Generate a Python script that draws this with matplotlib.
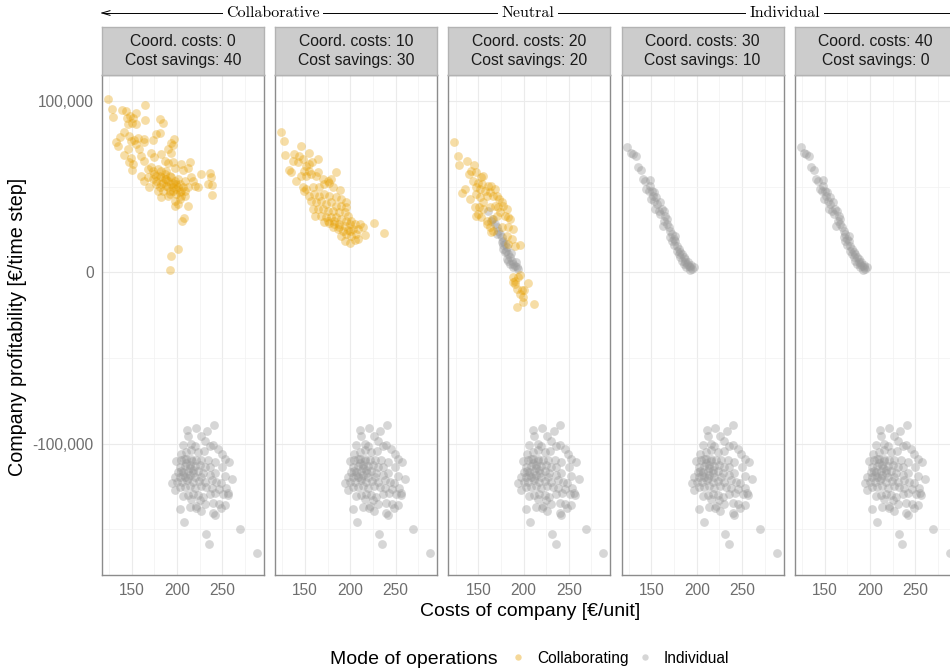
import matplotlib
matplotlib.use("Agg")
import matplotlib.pyplot as plt
from matplotlib.lines import Line2D
from matplotlib.ticker import MultipleLocator, FuncFormatter
import numpy as np

plt.rcParams['font.family'] = ['Liberation Sans', 'DejaVu Sans']

# facet settings
coord_costs = [0, 10, 20, 30, 40]
cost_savings = [40, 30, 20, 10, 0]
regimes = ["Collaborative", "Neutral", "Individual"]
modes = ["Collaborating", "Individual"]

# costs [EUR/unit] and profit [1000 EUR/time step] per group
collab_0_cost = [123.9, 127.6, 128.7, 138.7, 143.5, 144.6, 148.3, 150.9, 154.6, 164.6, 164.6, 145.4, 149.8, 154.6,
                 180.6, 184.3, 141.7, 137.2, 132.4, 135.0, 147.2, 149.1, 152.0, 154.6, 156.5, 163.9, 163.9, 173.2,
                 176.9, 180.6, 192.8, 196.5, 195.4, 189.8, 192.8, 140.9, 146.1, 149.1, 147.2, 150.9, 149.8, 158.3,
                 160.2, 163.9, 171.3, 175.0, 182.4, 186.1, 189.8, 195.4, 204.6, 213.9, 212.0, 206.5, 197.2, 160.2,
                 163.9, 167.6, 169.4, 173.2, 176.9, 180.6, 182.4, 186.1, 188.0, 191.7, 195.4, 199.1, 200.9, 202.8,
                 206.5, 208.3, 215.7, 217.6, 219.5, 223.2, 226.1, 236.1, 237.2, 234.3, 238.7, 238.7, 182.4, 189.8,
                 197.2, 200.9, 208.3, 212.0, 197.2, 207.6, 205.4, 200.9, 193.5, 191.7, 171.3, 175.0, 178.7, 182.4,
                 186.1, 189.8, 193.5, 197.2, 200.9, 204.6, 193.5, 188.0, 180.6, 184.3, 191.7, 199.1, 167.6, 173.2,
                 176.9, 178.7, 208.3, 212.0, 204.6, 202.8, 195.4, 191.7, 184.3, 188.0, 199.1, 202.8, 189.8, 195.4,
                 182.4, 176.9]
collab_0_profit = [101.0, 95.5, 90.7, 94.6, 94.2, 90.3, 91.3, 90.3, 93.2, 97.7, 88.9, 86.8, 87.4, 86.4,
                   89.3, 87.0, 81.9, 79.0, 76.1, 73.8, 79.6, 76.7, 77.1, 75.1, 78.6, 77.7, 76.3, 77.3,
                   81.0, 81.2, 75.7, 77.7, 74.4, 71.9, 69.9, 68.6, 71.9, 66.6, 64.1, 63.1, 59.6, 71.9,
                   68.0, 65.1, 69.9, 67.0, 68.9, 65.1, 63.5, 64.1, 63.1, 64.5, 60.8, 59.6, 60.8, 56.3,
                   53.4, 55.4, 49.5, 59.2, 53.4, 56.3, 51.5, 54.4, 59.2, 47.6, 49.5, 51.5, 54.4, 46.6,
                   49.5, 53.4, 55.4, 53.4, 50.5, 49.9, 57.3, 57.7, 55.7, 51.5, 51.1, 45.1, 43.7, 44.7,
                   41.8, 39.8, 44.7, 38.9, 38.9, 31.7, 29.7, 13.6, 9.7, 1.4, 61.2, 57.3, 60.2, 55.4,
                   57.3, 53.4, 55.4, 53.4, 49.5, 47.6, 51.5, 50.5, 49.5, 47.6, 45.6, 45.6, 60.2, 54.4,
                   51.5, 47.6, 47.6, 49.5, 44.7, 42.7, 52.4, 56.3, 52.4, 54.4, 48.6, 51.5, 49.5, 47.6,
                   59.2, 56.3]

collab_10_cost = [123.1, 126.8, 127.9, 138.0, 143.5, 145.4, 154.6, 163.9, 136.9, 141.7, 147.3, 131.7, 134.3, 150.9,
                  154.6, 157.6, 149.1, 153.9, 156.5, 139.9, 145.4, 150.9, 162.0, 163.9, 169.5, 175.0, 178.7, 184.3,
                  147.3, 150.9, 149.1, 158.4, 165.8, 171.2, 176.9, 180.6, 188.7, 154.6, 160.2, 165.8, 171.2, 176.9,
                  184.3, 189.9, 195.4, 156.5, 162.0, 167.6, 173.2, 178.7, 184.3, 189.9, 195.4, 158.4, 163.9, 169.5,
                  175.0, 180.6, 188.0, 193.6, 161.3, 167.6, 173.2, 178.7, 184.3, 189.9, 195.4, 201.0, 171.2, 176.9,
                  182.4, 188.0, 193.6, 199.1, 204.7, 210.2, 213.9, 180.6, 186.2, 191.7, 197.3, 202.8, 208.4, 189.9,
                  195.4, 201.0, 206.5, 215.8, 193.6, 199.9, 204.7, 208.4, 225.8, 237.3, 175.0, 182.4, 197.3, 188.0,
                  199.1]
collab_10_profit = [81.9, 76.7, 68.6, 69.3, 68.0, 73.8, 69.5, 66.0, 65.1, 64.5, 66.0, 59.6, 58.3, 62.1,
                    63.1, 64.5, 59.2, 59.2, 57.3, 53.4, 56.3, 56.3, 56.3, 58.3, 54.4, 53.4, 54.4, 58.3,
                    49.5, 48.6, 47.6, 49.5, 49.5, 51.5, 52.4, 49.5, 48.2, 44.7, 45.6, 44.7, 45.6, 44.7,
                    43.7, 42.7, 40.8, 41.8, 40.8, 41.8, 39.8, 40.8, 38.9, 38.9, 37.9, 36.9, 36.9, 36.9,
                    35.9, 35.9, 35.0, 35.0, 33.0, 33.0, 32.1, 32.1, 32.1, 31.1, 30.1, 30.1, 29.1, 28.6,
                    28.2, 28.2, 27.2, 28.2, 28.2, 28.2, 26.2, 26.2, 25.3, 24.3, 24.7, 25.3, 25.3, 21.4,
                    22.4, 21.4, 22.4, 22.0, 18.1, 17.1, 18.9, 19.4, 28.6, 22.9, 30.1, 30.1, 33.0, 26.2,
                    24.3]

collab_20_cost = [122.8, 127.6, 128.7, 137.6, 145.4, 139.8, 142.4, 148.0, 153.5, 155.4, 144.3, 149.8, 154.6, 160.9,
                  148.0, 152.4, 157.2, 162.8, 164.6, 168.3, 135.0, 132.4, 140.6, 148.0, 151.7, 159.1, 166.5, 170.2,
                  173.2, 175.8, 146.1, 150.9, 155.4, 162.8, 168.3, 172.1, 177.6, 181.3, 148.0, 153.5, 159.1, 165.7,
                  170.2, 179.5, 183.2, 185.0, 159.1, 162.8, 166.5, 175.8, 183.2, 188.7, 164.6, 181.3, 186.9, 196.1,
                  183.2, 190.6, 188.0, 190.6, 194.4, 196.1, 188.9, 190.6, 205.4, 193.2, 198.0, 200.6, 196.1, 199.1,
                  199.8, 192.4, 211.7, 149.8, 155.4, 173.9]
collab_20_profit = [76.3, 67.6, 62.5, 64.7, 62.7, 57.3, 59.2, 58.3, 55.4, 56.3, 53.4, 52.4, 51.5, 50.5,
                    49.5, 48.6, 47.6, 46.6, 50.5, 48.6, 48.6, 46.2, 42.7, 45.6, 43.7, 44.7, 44.7, 44.7,
                    42.7, 40.8, 38.3, 37.9, 36.9, 37.9, 38.8, 37.9, 38.8, 36.9, 33.0, 32.1, 30.1, 31.1,
                    33.0, 33.0, 32.1, 31.1, 28.2, 26.2, 24.3, 26.2, 26.2, 25.3, 23.3, 21.4, 19.4, 16.1,
                    16.5, 15.6, -2.5, -4.8, -2.9, -1.3, -5.8, -6.8, -6.2, -9.7, -10.6, -10.3, -12.6, -14.5,
                    -17.4, -20.4, -18.4, 34.0, 40.8, 35.0]

indiv_20_cost = [160.9, 164.6, 166.5, 168.3, 170.2, 172.1, 173.9, 175.8, 176.9, 179.5, 181.3, 177.6, 179.5, 183.2,
                 185.0, 181.3, 186.9, 188.7, 190.6, 192.4, 185.0, 183.2, 188.0, 194.3, 191.7, 177.6, 175.8, 170.9,
                 180.6, 185.8]
indiv_20_profit = [35.6, 30.1, 31.1, 28.2, 26.2, 24.3, 22.3, 20.4, 18.5, 16.5, 14.6, 13.6, 11.7, 10.7,
                   8.8, 7.8, 6.8, 4.9, 3.9, 3.0, 4.9, 6.8, 3.0, 2.0, 5.9, 16.1, 17.5, 22.3,
                   12.7, 11.1]

# companies that stay individual when nobody around them collaborates
indiv_line_cost = [123.5, 127.2, 129.4, 133.1, 134.6, 138.3, 140.5, 143.1, 147.9, 144.3, 148.7, 146.8, 150.5, 151.6,
                   149.4, 153.2, 155.4, 156.1, 159.1, 154.3, 158.0, 161.7, 163.5, 165.4, 159.8, 164.3, 162.8, 167.2,
                   169.1, 170.9, 172.8, 170.9, 174.6, 176.5, 174.6, 178.3, 180.2, 178.3, 182.0, 183.9, 182.0, 185.7,
                   187.6, 183.9, 187.6, 189.5, 191.3, 193.1, 195.0, 192.4, 196.9, 188.7, 185.7, 176.5, 172.8, 180.2,
                   190.2, 193.9, 167.2, 152.4]
indiv_line_profit = [73.4, 69.5, 68.9, 68.0, 61.2, 59.6, 54.4, 53.4, 53.8, 48.6, 50.5, 47.6, 47.6, 44.7,
                     42.7, 41.8, 43.7, 39.8, 40.8, 36.9, 35.9, 36.9, 35.9, 33.0, 34.0, 30.1, 27.2, 28.2,
                     26.2, 24.3, 22.3, 20.4, 19.4, 18.1, 16.1, 15.6, 13.6, 12.3, 11.7, 10.7, 9.2, 8.8,
                     7.8, 6.8, 5.9, 4.9, 3.9, 3.0, 2.0, 1.4, 3.0, 3.3, 4.9, 21.4, 18.5, 10.7,
                     5.9, 4.5, 31.1, 46.6]

# loss-making individual companies, same in every facet
indiv_low_cost = [240.6, 220.6, 210.9, 233.2, 212.0, 226.1, 230.6, 239.8, 206.5, 215.7, 219.5, 236.1, 245.4, 249.1,
                  252.8, 257.6, 203.9, 210.2, 215.7, 223.2, 229.8, 199.1, 204.6, 210.2, 215.7, 221.3, 226.9, 234.3,
                  241.7, 202.8, 208.3, 213.9, 219.5, 225.0, 230.6, 236.1, 200.9, 206.5, 212.0, 217.6, 223.2, 228.7,
                  197.2, 202.8, 208.3, 213.9, 219.5, 226.9, 236.1, 241.7, 249.8, 252.8, 260.9, 194.3, 200.2, 205.4,
                  211.3, 217.6, 223.9, 230.6, 238.0, 243.5, 248.3, 197.2, 202.8, 208.3, 213.9, 219.5, 226.1, 232.4,
                  238.0, 246.1, 253.9, 206.5, 212.0, 217.6, 223.2, 228.7, 236.1, 242.4, 250.9, 256.5, 255.7, 215.7,
                  225.0, 230.6, 239.8, 246.1, 252.8, 202.8, 213.9, 220.6, 226.1, 221.3, 239.8, 241.7, 248.3, 207.6,
                  231.7, 235.4, 269.4, 288.3, 210.2, 206.0, 214.0, 208.0, 218.0, 212.0, 204.0, 216.0]
indiv_low_profit = [-88.9, -90.8, -91.8, -92.8, -95.7, -95.7, -98.6, -100.5, -100.5, -100.0, -101.5, -101.5, -102.9, -105.8,
                    -108.7, -110.6, -105.8, -104.8, -103.8, -104.8, -104.2, -110.2, -109.7, -108.7, -108.7, -109.7, -109.3, -109.7,
                    -110.6, -113.5, -113.1, -112.6, -113.1, -112.6, -113.5, -113.9, -116.5, -116.5, -115.9, -115.5, -115.9, -117.0,
                    -119.4, -119.4, -119.4, -118.4, -119.4, -119.4, -118.4, -117.4, -113.9, -118.8, -120.7, -122.7, -122.3, -122.3,
                    -121.3, -122.3, -121.7, -122.3, -121.3, -122.3, -123.2, -127.1, -125.2, -125.2, -124.8, -125.6, -124.8, -125.2,
                    -125.6, -126.2, -125.6, -130.6, -130.0, -129.1, -130.0, -131.0, -129.1, -128.7, -129.5, -130.0, -128.7, -132.0,
                    -132.9, -135.3, -134.9, -135.3, -135.9, -138.4, -136.8, -137.8, -139.3, -136.4, -140.3, -141.7, -137.8, -145.6,
                    -152.7, -158.8, -149.6, -163.6, -111.0, -118.0, -114.0, -109.0, -117.0, -120.0, -116.0, -110.0]

collab_cost = [collab_0_cost, collab_10_cost, collab_20_cost, [], []]
collab_profit = [collab_0_profit, collab_10_profit, collab_20_profit, [], []]
indiv_cost = [[], [], indiv_20_cost, indiv_line_cost, indiv_line_cost]
indiv_profit = [[], [], indiv_20_profit, indiv_line_profit, indiv_line_profit]

COL_C = "#E69F00"
COL_I = "#999999"
W, H = 950, 669

fig = plt.figure(figsize=(9.5, 6.69), dpi=100)

def fx(px):
    return px / W

def fy(py):
    return 1 - py / H

panel_top, panel_bot = 75, 575
strip_top = 27
for i in range(5):
    left = 102 + i * 173.2
    ax = fig.add_axes([fx(left), fy(panel_bot), 162 / W, (panel_bot - panel_top) / H])
    ax.set_xlim(117, 296)
    ax.set_ylim(-176640, 115140)
    ax.xaxis.set_major_locator(MultipleLocator(50))
    ax.xaxis.set_minor_locator(MultipleLocator(25))
    ax.yaxis.set_major_locator(MultipleLocator(100000))
    ax.yaxis.set_minor_locator(MultipleLocator(50000))
    ax.grid(which='major', color='#EBEBEB', lw=0.8)
    ax.grid(which='minor', color='#F2F2F2', lw=0.5)
    ax.set_axisbelow(True)
    ax.tick_params(which='both', length=0, pad=6, labelsize=11.2, labelcolor='#6E6E6E')
    ax.yaxis.set_major_formatter(FuncFormatter(lambda v, p: f"{v:,.0f}"))
    if i > 0:
        ax.set_yticklabels([])
    for s in ax.spines.values():
        s.set_color('#8C8C8C')
        s.set_linewidth(1.0)

    ax.scatter(indiv_low_cost, np.array(indiv_low_profit) * 1000, s=40, color=COL_I, alpha=0.4, lw=0)
    if indiv_cost[i]:
        ax.scatter(indiv_cost[i], np.array(indiv_profit[i]) * 1000, s=40, color=COL_I, alpha=0.4, lw=0)
    if collab_cost[i]:
        ax.scatter(collab_cost[i], np.array(collab_profit[i]) * 1000, s=40, color=COL_C, alpha=0.35, lw=0)

    # facet strip
    sax = fig.add_axes([fx(left), fy(panel_top), 162 / W, (panel_top - strip_top) / H])
    sax.set_facecolor('#CCCCCC')
    sax.set_xticks([])
    sax.set_yticks([])
    for s in sax.spines.values():
        s.set_color('#B3B3B3')
        s.set_linewidth(1.0)
    sax.text(0.5, 0.5, f"Coord. costs: {coord_costs[i]}\nCost savings: {cost_savings[i]}",
             ha='center', va='center', fontsize=11.3, color='#1A1A1A', linespacing=1.25,
             transform=sax.transAxes)

# regime arrow along the top
ya = fy(13)
fig.add_artist(Line2D([fx(104), 1.0], [ya, ya], transform=fig.transFigure, color='black', lw=0.7))
fig.add_artist(Line2D([fx(102), fx(110)], [ya, ya + 0.0035], transform=fig.transFigure, color='black', lw=0.7))
fig.add_artist(Line2D([fx(102), fx(110)], [ya, ya - 0.0035], transform=fig.transFigure, color='black', lw=0.7))
for name, cx in zip(regimes, [273, 528, 785]):
    fig.text(fx(cx), ya, name, ha='center', va='center', family='cmr10', fontsize=11.5,
             bbox=dict(facecolor='white', edgecolor='none', pad=2.5))

fig.text(fx(530), fy(611), "Costs of company [€/unit]", ha='center', va='center', fontsize=14)
fig.text(fx(18), fy(327), "Company profitability [€/time step]", ha='center', va='center',
         rotation=90, fontsize=14.2)

# legend: title on the left, keys in one row
ly = fy(657)
fig.text(fx(330), ly, "Mode of operations", ha='left', va='center_baseline', fontsize=14)
for label, col, kx in zip(modes, [COL_C, COL_I], [518, 645]):
    fig.add_artist(Line2D([fx(kx)], [ly], transform=fig.transFigure, marker='o', ls='', color=col,
                          alpha=0.4, markersize=4.6, markeredgewidth=0))
    fig.text(fx(kx + 19), ly, label, ha='left', va='center_baseline', fontsize=11.2)

fig.savefig("out.png", dpi=100)
